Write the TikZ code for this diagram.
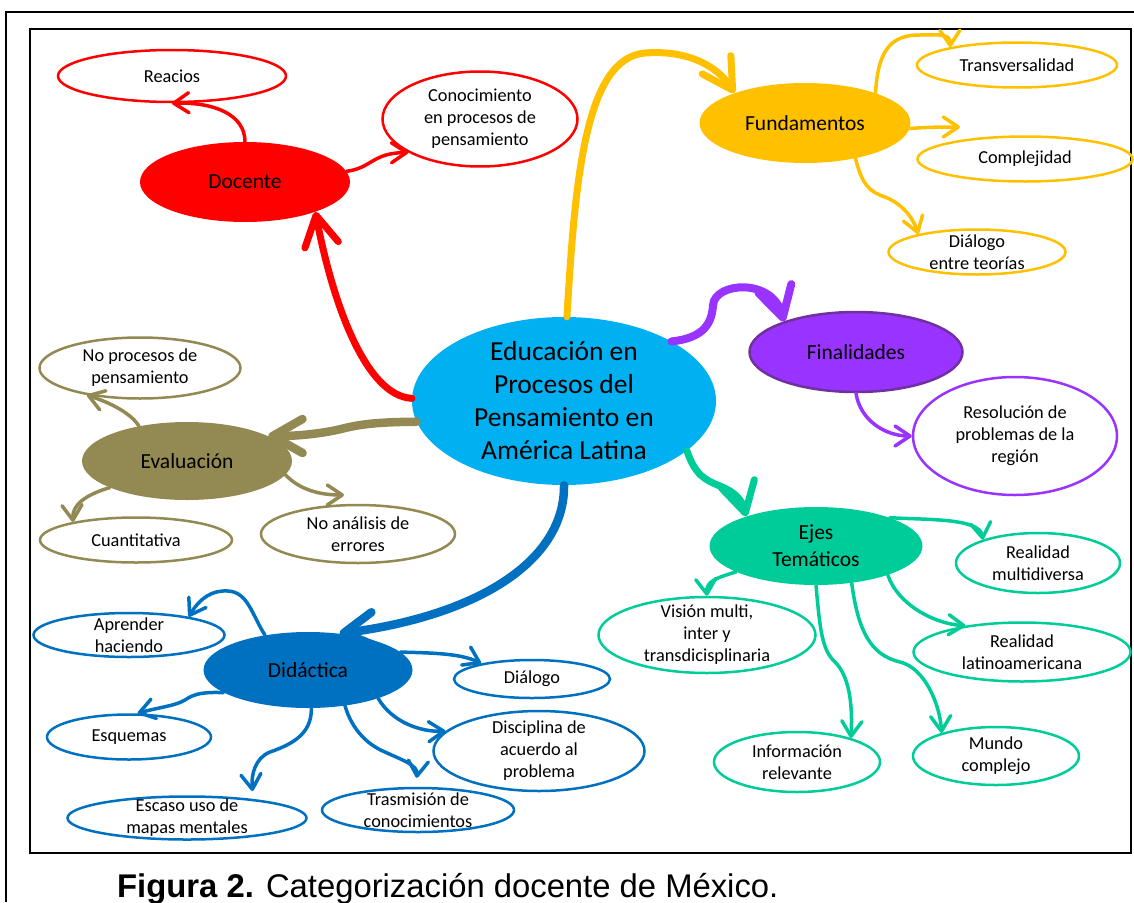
\documentclass[tikz,border=0pt]{standalone}
\usepackage{fontspec}
\setmainfont{Carlito}
\newfontfamily\piefont{Liberation Sans}
\usetikzlibrary{positioning}
\usetikzlibrary{shapes}
\usetikzlibrary{arrows.meta}

\definecolor{cielo}{HTML}{00B0F0}
\definecolor{rojo}{HTML}{FF0000}
\definecolor{oro}{HTML}{FFC000}
\definecolor{lila}{HTML}{9933FF}
\definecolor{lilaosc}{HTML}{7030A0}
\definecolor{menta}{HTML}{00CC99}
\definecolor{caqui}{HTML}{938953}
\definecolor{azul}{HTML}{0070C0}

\tikzset{
  burbuja/.style={ellipse, inner xsep=0pt, inner ysep=-10pt, align=center},
  nucleo/.style={burbuja, fill=cielo, font=\fontsize{27.5}{33}\selectfont},
  tema/.style={burbuja, font=\fontsize{21.5}{27}\selectfont},
  hoja/.style={burbuja, draw, line width=2.5pt, font=\fontsize{18.3}{22}\selectfont},
  rama/.style={line width=7pt, line cap=round, -{Straight Barb[length=30pt,width=34pt,round]}},
  ramita/.style={line width=3.5pt, line cap=round, -{Straight Barb[length=15pt,width=20pt,round]}},
}

\begin{document}
\begin{tikzpicture}[x=1pt,y=-1pt]
    \useasboundingbox (0,0) rectangle (1134,902);

    %frames
    \draw[line width=1.8pt] (6,902) -- (6,12) -- (1134,12);
    \draw[line width=1.8pt] (30,29) rectangle (1131,853);

    %central ellipse
    \node[nucleo, minimum width=304pt, minimum height=168pt] (centro) at (564,401)
        {Educación en\\Procesos del\\Pensamiento en\\América Latina};

    %docente
    \node[tema, fill=rojo, minimum width=210pt, minimum height=80pt] (docente) at (245,182) {Docente};
    \node[hoja, draw=rojo, minimum width=228pt, minimum height=52pt] (reacios) at (172,76) {Reacios};
    \node[hoja, draw=rojo, minimum width=195pt, minimum height=95pt] (conoc) at (480,119)
        {Conocimiento\\en procesos de\\pensamiento};

    %fundamentos
    \node[tema, fill=oro, minimum width=211pt, minimum height=80pt] (fund) at (805,123) {Fundamentos};
    \node[hoja, draw=oro, minimum width=200pt, minimum height=45pt] (transv) at (1017,65) {Transversalidad};
    \node[hoja, draw=oro, minimum width=215pt, minimum height=45pt] (complej) at (1025,159) {Complejidad};
    \node[hoja, draw=oro, minimum width=177pt, minimum height=45pt] (dialteo) at (977,252)
        {Diálogo\\entre teorías};
    \coordinate (pcomp) at (960,127);

    %finalidades
    \node[tema, fill=lila, draw=lilaosc, line width=2.5pt, minimum width=213pt, minimum height=80pt] (final) at (856,352) {Finalidades};
    \node[hoja, draw=lila, minimum width=204pt, minimum height=118pt] (resol) at (1015,436)
        {Resolución de\\problemas de la\\región};

    %ejes tematicos
    \node[tema, fill=menta, minimum width=213pt, minimum height=78pt] (ejes) at (816,546) {Ejes\\Temáticos};
    \node[hoja, draw=menta, minimum width=164pt, minimum height=60pt] (multid) at (1038,563) {Realidad\\multidiversa};
    \node[hoja, draw=menta, minimum width=217pt, minimum height=59pt] (latam) at (1022,652) {Realidad\\latinoamericana};
    \node[hoja, draw=menta, minimum width=217pt, minimum height=76pt] (vision) at (707,635)
        {Visión multi,\\inter y\\transdicisplinaria};
    \node[hoja, draw=menta, minimum width=166pt, minimum height=60pt] (info) at (797,762) {Información\\relevante};
    \node[hoja, draw=menta, minimum width=166pt, minimum height=58pt] (mundo) at (996,756) {Mundo\\complejo};

    %evaluacion
    \node[tema, fill=caqui, minimum width=210pt, minimum height=78pt] (evalua) at (187,461) {Evaluación};
    \node[hoja, draw=caqui, minimum width=201pt, minimum height=61pt] (noproc) at (140,368) {No procesos de\\pensamiento};
    \node[hoja, draw=caqui, minimum width=192pt, minimum height=45pt] (cuanti) at (136,540) {Cuantitativa};
    \node[hoja, draw=caqui, minimum width=194pt, minimum height=58pt] (noanal) at (358,534) {No análisis de\\errores};
    \coordinate (panal) at (344,495);

    %didactica
    \node[tema, fill=azul, minimum width=209pt, minimum height=76pt] (didac) at (308,670) {Didáctica};
    \node[hoja, draw=azul, minimum width=191pt, minimum height=44pt] (aprender) at (129,635) {Aprender\\haciendo};
    \node[hoja, draw=azul, minimum width=156pt, minimum height=38pt] (dialogo) at (532,679) {Diálogo};
    \node[hoja, draw=azul, minimum width=164pt, minimum height=45pt] (esquemas) at (129,737) {Esquemas};
    \node[hoja, draw=azul, minimum width=211pt, minimum height=80pt] (discip) at (539,751)
        {Disciplina de\\acuerdo al\\problema};
    \node[hoja, draw=azul, minimum width=239pt, minimum height=43pt] (escaso) at (187,818)
        {Escaso uso de\\mapas mentales};
    \node[hoja, draw=azul, minimum width=192pt, minimum height=44pt] (trasm) at (418,810)
        {Trasmisión de\\conocimientos};

    %main branches
    \draw[rama, rojo] (centro.179) .. controls (365,396) and (332,300) .. (docente.-23);
    \draw[rama, oro] (centro.88) .. controls (575,180) and (585,58) .. (645,53)
        .. controls (685,50) and (716,64) .. (fund.157);
    \draw[rama, lila, line width=8pt] (centro.29) .. controls (705,338) and (712,322) .. (713,305)
        .. controls (715,282) and (772,278) .. (final.157);
    \draw[rama, menta] (centro.-22) .. controls (695,475) and (705,480) .. (720,486)
        .. controls (735,492) and (742,500) .. (ejes.157);
    \draw[rama, azul, line width=8.5pt] (centro.-90) .. controls (565,560) and (480,615) .. (didac.49);
    \draw[rama, caqui, line width=8.5pt] (centro.188) .. controls (380,422) and (362,424) .. (345,428)
        .. controls (330,432) and (305,436) .. (evalua.17);

    %docente branches
    \draw[ramita, rojo] (docente.90) .. controls (245,115) and (215,102) .. (reacios.-90);
    \draw[ramita, rojo] (docente.6) .. controls (372,168) and (372,153) .. (conoc.205);

    %fundamentos branches
    \draw[ramita, oro] (fund.23) .. controls (878,45) and (895,35) .. (920,35)
        .. controls (940,35) and (950,33) .. (transv.165);
    \draw[ramita, oro] (fund.-3) .. controls (930,127) and (945,127) .. (pcomp);
    \draw[ramita, oro] (fund.-35) .. controls (862,185) and (870,192) .. (885,197)
        .. controls (900,203) and (912,215) .. (dialteo.163);

    %finalidades branch
    \draw[ramita, lila] (final.-90) .. controls (860,420) and (885,436) .. (resol.west);

    %ejes branches
    \draw[ramita, menta] (ejes.21) .. controls (930,520) and (980,518) .. (multid.157);
    \draw[ramita, menta] (ejes.198) .. controls (715,578) and (706,582) .. (vision.north);
    \draw[ramita, menta] (ejes.-22) .. controls (898,605) and (935,624) .. (latam.155);
    \draw[ramita, menta] (ejes.-90) .. controls (820,630) and (822,650) .. (835,662)
        .. controls (848,675) and (853,700) .. (info.24);
    \draw[ramita, menta] (ejes.-46) .. controls (858,630) and (870,655) .. (900,662)
        .. controls (925,668) and (940,705) .. (mundo.157);

    %evaluacion branches
    \draw[ramita, caqui] (evalua.144) .. controls (130,412) and (108,402) .. (noproc.207);
    \draw[ramita, caqui] (evalua.199) .. controls (85,495) and (72,505) .. (cuanti.164);
    \draw[ramita, caqui] (evalua.-8) .. controls (300,490) and (320,495) .. (panal);

    %didactica branches
    \draw[ramita, azul] (didac.141) .. controls (252,615) and (248,592) .. (228,591)
        .. controls (212,590) and (200,598) .. (aprender.17);
    \draw[ramita, azul] (didac.11) .. controls (430,653) and (460,653) .. (dialogo.163);
    \draw[ramita, azul] (didac.195) .. controls (205,692) and (195,693) .. (185,700)
        .. controls (175,706) and (160,707) .. (esquemas.70);
    \draw[ramita, azul] (didac.-22) .. controls (392,722) and (420,732) .. (discip.168);
    \draw[ramita, azul, shorten >=8pt] (didac.-85) .. controls (312,735) and (290,745) .. (270,752)
        .. controls (255,758) and (251,775) .. (escaso.16);
    \draw[ramita, azul, shorten >=9pt] (didac.-44) .. controls (352,730) and (368,745) .. (385,752)
        .. controls (402,760) and (418,765) .. (trasm.95);

    %caption
    \node[anchor=base west, inner sep=0pt, font=\piefont\fontsize{32.8}{38}\selectfont] (pie) at (117,897)
        {\textbf{Figura 2.} Categorización docente de México.};

\end{tikzpicture}
\end{document}
